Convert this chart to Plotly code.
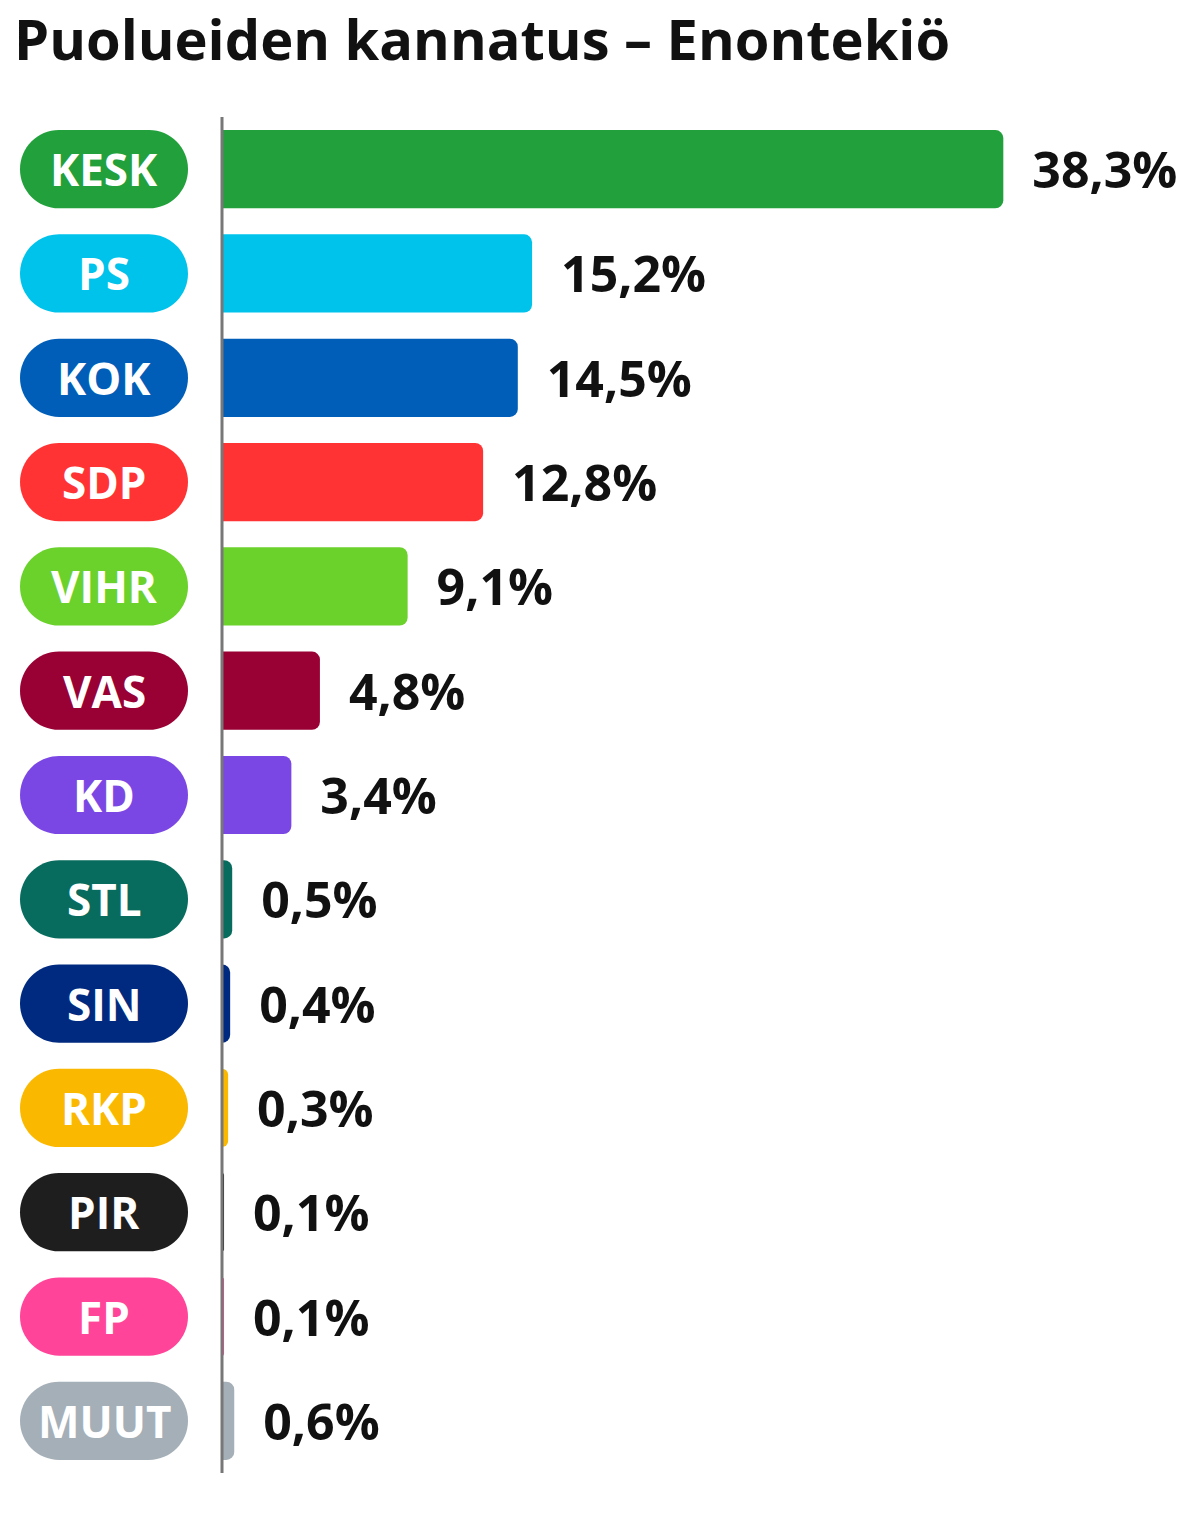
import plotly.graph_objects as go

parties = ['KESK', 'PS', 'KOK', 'SDP', 'VIHR', 'VAS', 'KD', 'STL', 'SIN', 'RKP', 'PIR', 'FP', 'MUUT']
support = [38.3, 15.2, 14.5, 12.8, 9.1, 4.8, 3.4, 0.5, 0.4, 0.3, 0.1, 0.1, 0.6]
colors = ['#21a03b', '#00c3ec', '#005eb8', '#ff3334', '#6bd22c', '#990033', '#7b47e4',
          '#076c5e', '#002a7f', '#fbb800', '#1e1e1e', '#ff4499', '#a5afb7']

W, H = 1199, 1513
L, T = 214, 109
n = len(parties)
row_px = 104.3
plot_h = n * row_px
B = H - T - plot_h
plot_w = W - L

ys = list(range(n))
labels = ['\u00a0\u00a0' + f"{v:.1f}".replace('.', ',') + '%' for v in support]

fig = go.Figure(go.Bar(
    x=support, y=ys, orientation='h',
    marker=dict(color=colors, cornerradius=8, line=dict(width=0)),
    text=labels, textposition='outside', cliponaxis=False,
    textfont=dict(family='Open Sans', size=50, color='#111111', weight='bold'),
    width=0.75, hoverinfo='skip',
))

# party "pills" on the left
x0, x1 = (12 - L) / plot_w, (180 - L) / plot_w
rx = 39 / plot_w
ry = 0.75 / 2
k = 0.5523
for i, (p, c) in enumerate(zip(parties, colors)):
    a, b = x0 + rx, x1 - rx
    top, bot = i - ry, i + ry
    path = (f"M {a},{top} L {b},{top} "
            f"C {b + k*rx},{top} {x1},{i - k*ry} {x1},{i} "
            f"C {x1},{i + k*ry} {b + k*rx},{bot} {b},{bot} "
            f"L {a},{bot} "
            f"C {a - k*rx},{bot} {x0},{i + k*ry} {x0},{i} "
            f"C {x0},{i - k*ry} {a - k*rx},{top} {a},{top} Z")
    fig.add_shape(type='path', path=path, xref='paper', yref='y',
                  fillcolor=c, line=dict(width=0), layer='above')
    fig.add_annotation(x=(x0 + x1) / 2, y=i, xref='paper', yref='y', text=p,
                       showarrow=False, xanchor='center', yanchor='middle',
                       font=dict(family='Open Sans', size=44, color='#ffffff', weight='bold'))

fig.update_layout(
    width=W, height=H,
    margin=dict(l=L, r=0, t=T, b=B),
    plot_bgcolor='white', paper_bgcolor='white',
    showlegend=False,
    title=dict(text='<b>Puolueiden kannatus – Enontekiö</b>', x=0.005, xanchor='left',
               y=1 - 32 / H, yanchor='middle',
               font=dict(family='Open Sans', size=56, color='#111111')),
    xaxis=dict(range=[0, plot_w / 20.4], visible=False),
    yaxis=dict(autorange='reversed', showticklabels=False, showgrid=False, zeroline=False,
               showline=False),
)
fig.add_shape(type='line', xref='paper', yref='paper', x0=0, x1=0, y0=0, y1=1,
              line=dict(color='#777777', width=3))

fig.write_html("out.html")
